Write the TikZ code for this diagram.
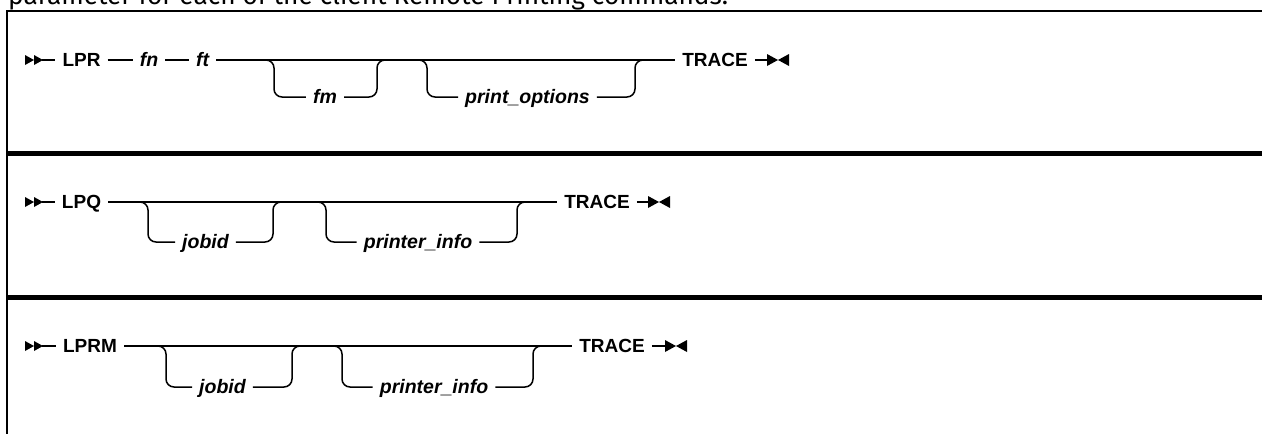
\documentclass[tikz,border=0pt]{standalone}
\usepackage{fontspec}
\setmainfont{Fira Sans}
\newfontfamily\railfont{Liberation Sans}
\usepackage{graphicx}
\tikzset{
  frameline/.style={line width=2.5pt},
  sepline/.style={line width=5pt},
  rail/.style={line width=1.5pt},
  kw/.style={font=\railfont\fontsize{19}{19}\selectfont\bfseries, inner xsep=7pt, inner ysep=0pt, text height=13.5pt, text depth=0pt},
  var/.style={kw, font=\railfont\fontsize{19.5}{19.5}\selectfont\bfseries\itshape},
  branch/.style={rail, rounded corners=8pt},
  tipfill/.style={fill=black, draw=none},
}
\begin{document}
\begin{tikzpicture}[x=1pt,y=-1pt]
\useasboundingbox (0,0) rectangle (1262,434);
\begin{scope}
\clip (0,0) rectangle (1262,434);
\node[anchor=base west, inner sep=0pt] (intro) at (8,4) {\resizebox{720pt}{!}{parameter for each of the client Remote Printing commands.}};
\end{scope}

% frame
\coordinate (ftl) at (7,11);
\coordinate (ftr) at (1264,11);
\coordinate (fbl) at (7,436);
\draw[frameline] (ftr) -- (ftl) -- (fbl);
\coordinate (s1l) at (7,153.5);
\coordinate (s1r) at (1264,153.5);
\coordinate (s2l) at (7,297.5);
\coordinate (s2r) at (1264,297.5);
\draw[sepline] (s1l) -- (s1r);
\draw[sepline] (s2l) -- (s2r);

% ---------- row 1 ----------
\coordinate (a1) at (25,60);
\node[kw] (lpr) at (81.5,60) {LPR};
\node[var] (fn) at (149,60) {fn};
\node[var] (ft) at (202.5,60) {ft};
\coordinate (b1l) at (274,60);
\node[var] (fm) at (325,97) {fm};
\coordinate (b1r) at (377,60);
\coordinate (b2l) at (427,60);
\node[var] (po) at (527.5,97) {print\_options};
\coordinate (b2r) at (635,60);
\node[kw] (tr1) at (715,60) {TRACE};
\coordinate (e1) at (778,60);

\fill[tipfill] ([yshift=5pt]a1) -- ([xshift=9pt]a1) -- ([yshift=-5pt]a1) -- cycle;
\fill[tipfill] ([xshift=9pt,yshift=5pt]a1) -- ([xshift=18pt]a1) -- ([xshift=9pt,yshift=-5pt]a1) -- cycle;
\draw[rail] ([xshift=17pt]a1) -- (lpr.west);
\draw[rail] (lpr.east) -- (fn.west);
\draw[rail] (fn.east) -- (ft.west);
\draw[rail] (ft.east) -- (tr1.west);
\draw[branch] ([xshift=-12pt]b1l) -- (b1l) |- (fm.west);
\draw[branch] (fm.east) -| (b1r) -- ([xshift=12pt]b1r);
\draw[branch] ([xshift=-12pt]b2l) -- (b2l) |- (po.west);
\draw[branch] (po.east) -| (b2r) -- ([xshift=12pt]b2r);
\draw[rail] (tr1.east) -- ([xshift=-10pt]e1);
\fill[tipfill] ([xshift=-11pt,yshift=6pt]e1) -- (e1) -- ([xshift=-11pt,yshift=-6pt]e1) -- cycle;
\fill[tipfill] ([xshift=11pt,yshift=6pt]e1) -- (e1) -- ([xshift=11pt,yshift=-6pt]e1) -- cycle;

% ---------- row 2 ----------
\coordinate (a2) at (25,202);
\node[kw] (lpq) at (81.5,202) {LPQ};
\coordinate (b3l) at (148,202);
\node[var] (jb2) at (205.5,242) {jobid};
\coordinate (b3r) at (273,202);
\coordinate (b4l) at (326,202);
\node[var] (pi2) at (418,242) {printer\_info};
\coordinate (b4r) at (517,202);
\node[kw] (tr2) at (597,202) {TRACE};
\coordinate (e2) at (659,202);

\fill[tipfill] ([yshift=5pt]a2) -- ([xshift=9pt]a2) -- ([yshift=-5pt]a2) -- cycle;
\fill[tipfill] ([xshift=9pt,yshift=5pt]a2) -- ([xshift=18pt]a2) -- ([xshift=9pt,yshift=-5pt]a2) -- cycle;
\draw[rail] ([xshift=17pt]a2) -- (lpq.west);
\draw[rail] (lpq.east) -- (tr2.west);
\draw[branch] ([xshift=-12pt]b3l) -- (b3l) |- (jb2.west);
\draw[branch] (jb2.east) -| (b3r) -- ([xshift=12pt]b3r);
\draw[branch] ([xshift=-12pt]b4l) -- (b4l) |- (pi2.west);
\draw[branch] (pi2.east) -| (b4r) -- ([xshift=12pt]b4r);
\draw[rail] (tr2.east) -- ([xshift=-10pt]e2);
\fill[tipfill] ([xshift=-11pt,yshift=6pt]e2) -- (e2) -- ([xshift=-11pt,yshift=-6pt]e2) -- cycle;
\fill[tipfill] ([xshift=11pt,yshift=6pt]e2) -- (e2) -- ([xshift=11pt,yshift=-6pt]e2) -- cycle;

% ---------- row 3 ----------
\coordinate (a3) at (25,346);
\node[kw] (lprm) at (90,346) {LPRM};
\coordinate (b5l) at (166,346);
\node[var] (jb3) at (222.5,387) {jobid};
\coordinate (b5r) at (292,346);
\coordinate (b6l) at (342,346);
\node[var] (pi3) at (434,387) {printer\_info};
\coordinate (b6r) at (533,346);
\node[kw] (tr3) at (612,346) {TRACE};
\coordinate (e3) at (676,346);

\fill[tipfill] ([yshift=5pt]a3) -- ([xshift=9pt]a3) -- ([yshift=-5pt]a3) -- cycle;
\fill[tipfill] ([xshift=9pt,yshift=5pt]a3) -- ([xshift=18pt]a3) -- ([xshift=9pt,yshift=-5pt]a3) -- cycle;
\draw[rail] ([xshift=17pt]a3) -- (lprm.west);
\draw[rail] (lprm.east) -- (tr3.west);
\draw[branch] ([xshift=-12pt]b5l) -- (b5l) |- (jb3.west);
\draw[branch] (jb3.east) -| (b5r) -- ([xshift=12pt]b5r);
\draw[branch] ([xshift=-12pt]b6l) -- (b6l) |- (pi3.west);
\draw[branch] (pi3.east) -| (b6r) -- ([xshift=12pt]b6r);
\draw[rail] (tr3.east) -- ([xshift=-10pt]e3);
\fill[tipfill] ([xshift=-11pt,yshift=6pt]e3) -- (e3) -- ([xshift=-11pt,yshift=-6pt]e3) -- cycle;
\fill[tipfill] ([xshift=11pt,yshift=6pt]e3) -- (e3) -- ([xshift=11pt,yshift=-6pt]e3) -- cycle;
\end{tikzpicture}
\end{document}
